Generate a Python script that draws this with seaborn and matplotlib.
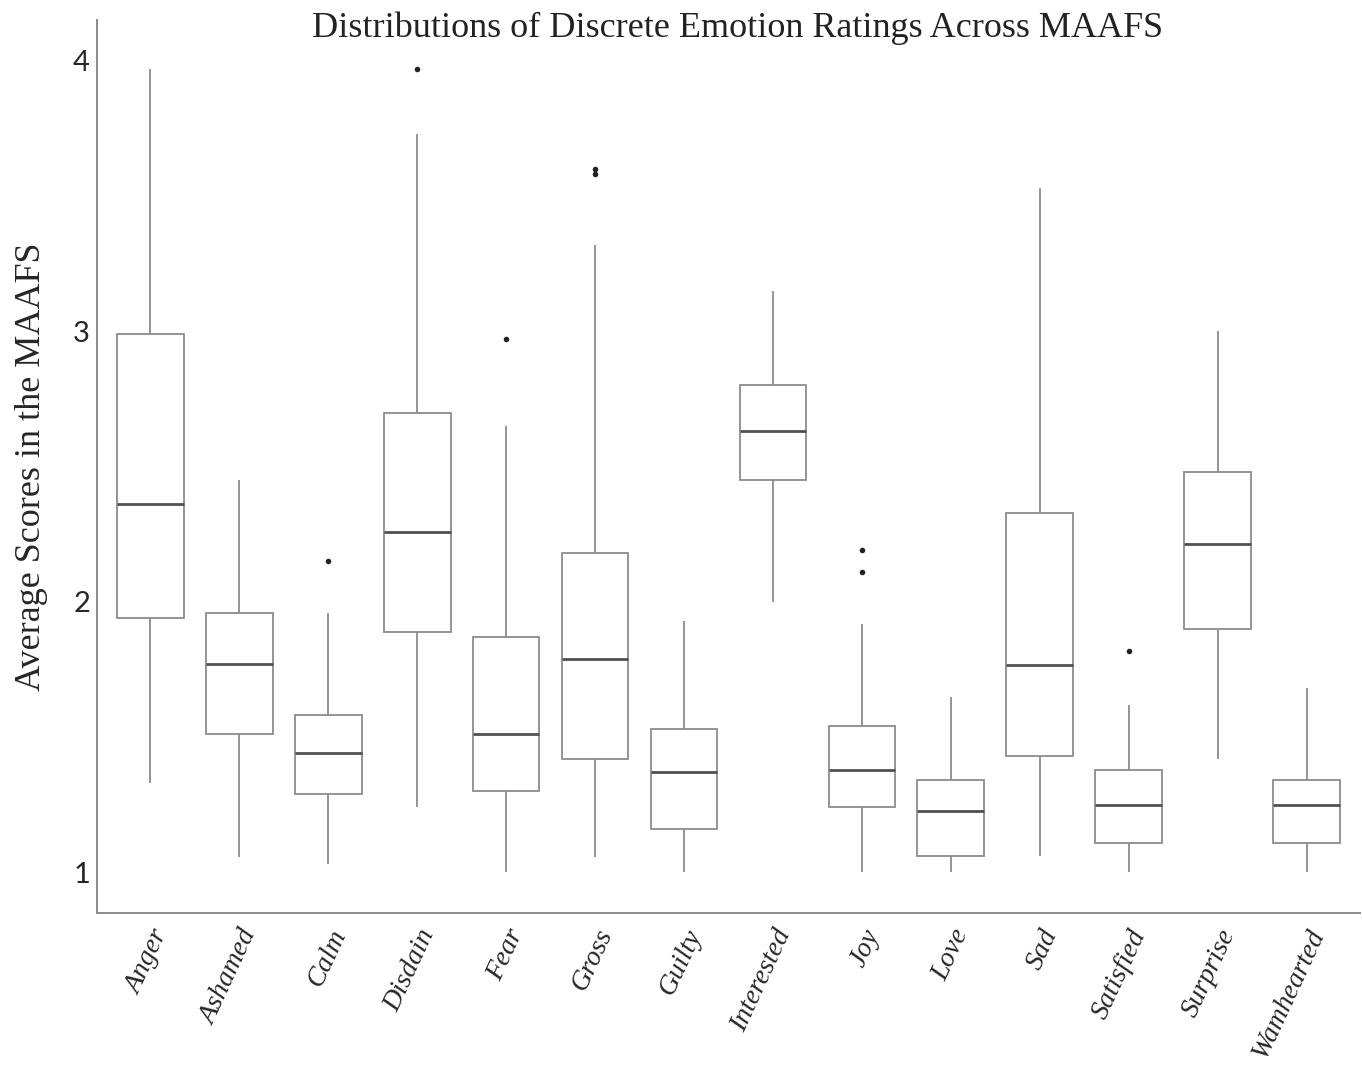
import pandas as pd
import seaborn as sns
import matplotlib.pyplot as plt

emotions = ["Anger", "Ashamed", "Calm", "Disdain", "Fear", "Gross", "Guilty",
            "Interested", "Joy", "Love", "Sad", "Satisfied", "Surprise", "Wamhearted"]

# box stats
whisker_low = [1.33, 1.055, 1.03, 1.24, 1.00, 1.055, 1.00, 2.00, 1.00, 1.00, 1.06, 1.00, 1.42, 1.00]
q1 = [1.94, 1.51, 1.29, 1.89, 1.30, 1.42, 1.16, 2.45, 1.24, 1.06, 1.43, 1.11, 1.90, 1.11]
median = [2.36, 1.77, 1.44, 2.26, 1.51, 1.79, 1.37, 2.63, 1.38, 1.225, 1.765, 1.25, 2.215, 1.25]
q3 = [2.99, 1.96, 1.58, 2.70, 1.87, 2.18, 1.53, 2.80, 1.54, 1.34, 2.33, 1.38, 2.48, 1.34]
whisker_high = [3.97, 2.45, 1.96, 3.73, 2.65, 3.32, 1.93, 3.15, 1.92, 1.65, 3.53, 1.62, 3.00, 1.68]

outlier_emotion = ["Calm", "Disdain", "Fear", "Gross", "Gross", "Joy", "Joy", "Satisfied"]
outlier_value = [2.15, 3.97, 2.97, 3.58, 3.60, 2.19, 2.11, 1.82]

# five points per emotion -> quartiles come out exactly as read
rows = []
for i, e in enumerate(emotions):
    for v in [whisker_low[i], q1[i], median[i], q3[i], whisker_high[i]]:
        rows.append({"emotion": e, "score": v})
df = pd.DataFrame(rows)
out_df = pd.DataFrame({"emotion": outlier_emotion, "score": outlier_value})

sns.set_style("white")
plt.rcParams['font.family'] = ['Liberation Serif', 'DejaVu Serif']

fig = plt.figure(figsize=(13.62, 10.69), dpi=100)
ax = fig.add_axes([0.0712, 0.146, 0.9273, 0.835])

sns.boxplot(data=df, x="emotion", y="score", order=emotions, whis=(0, 100),
            width=0.75, color="white", linecolor="#8c8c8c", linewidth=1.3,
            showfliers=False, showcaps=False,
            medianprops=dict(color="#505050", linewidth=2.0), ax=ax)
sns.stripplot(data=out_df, x="emotion", y="score", order=emotions, jitter=False,
              color="#222222", size=4, ax=ax)

ax.set_xlim(-0.6, 13.6)
ax.set_ylim(0.85, 4.15)
ax.set_yticks([1, 2, 3, 4])
ax.set_yticklabels(["1", "2", "3", "4"], family="Lato", fontsize=21)
ax.set_xticks(range(len(emotions)))
ax.set_xticklabels(emotions, rotation=65, ha="right", rotation_mode="anchor",
                   fontsize=20, style="italic")
ax.tick_params(axis="both", length=3, color="#999999", width=1)
ax.tick_params(axis="x", pad=6)
ax.tick_params(axis="y", pad=2)

for side in ["top", "right"]:
    ax.spines[side].set_visible(False)
for side in ["left", "bottom"]:
    ax.spines[side].set_color("#8c8c8c")
    ax.spines[side].set_linewidth(1.4)

ax.set_xlabel("")
ax.set_ylabel("Average Scores in the MAAFS", fontsize=26, labelpad=18)
fig.text(738 / 1362, 1 - 28 / 1069, "Distributions of Discrete Emotion Ratings Across MAAFS",
         ha="center", va="center", fontsize=26, color="#222222")

fig.savefig("out.png", dpi=100)
